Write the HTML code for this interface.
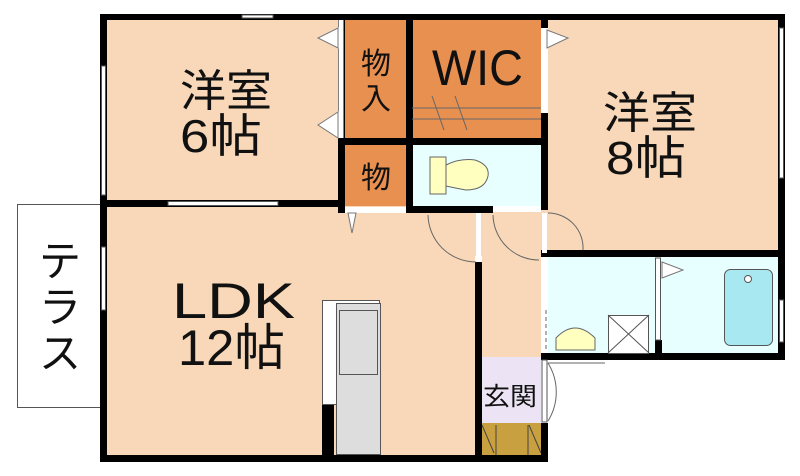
<!DOCTYPE html>
<html><head><meta charset="utf-8"><style>
html,body{margin:0;padding:0;background:#fff;width:800px;height:476px;overflow:hidden}
svg{display:block}
text{font-family:"Liberation Sans","Noto Sans CJK JP",sans-serif;fill:#111}
</style></head><body>
<svg width="800" height="476" viewBox="0 0 800 476" xmlns="http://www.w3.org/2000/svg">
<!-- terrace -->
<rect x="17.5" y="204.5" width="83" height="203" fill="#fff" stroke="#555" stroke-width="1"/>
<text x="60" y="276" font-size="42" text-anchor="middle">テ</text>
<text x="60" y="322" font-size="42" text-anchor="middle">ラ</text>
<text x="60" y="368" font-size="42" text-anchor="middle">ス</text>
<!-- rooms -->
<rect x="107" y="20" width="231" height="180" fill="#f8d8b8"/>
<rect x="107" y="207" width="368" height="248" fill="#f8d8b8"/>
<rect x="548" y="20" width="230" height="230" fill="#f8d8b8"/>
<rect x="345" y="20" width="61" height="118" fill="#e89050"/>
<rect x="413" y="20" width="128" height="118" fill="#e89050"/>
<rect x="345" y="145" width="61" height="61" fill="#e89050"/>
<rect x="413" y="145" width="128" height="61" fill="#e8ffff"/>
<rect x="345" y="206" width="203" height="50" fill="#f8d8b8"/>
<rect x="482" y="213" width="59" height="144" fill="#f8d8b8"/>
<rect x="548" y="257" width="230" height="96" fill="#e8ffff"/>
<rect x="482" y="357" width="59" height="66" fill="#ece4f4"/>
<rect x="482" y="423" width="59" height="32" fill="#c8a040"/>
<!-- walls -->
<g fill="#000">
<rect x="100" y="14" width="685" height="6"/>
<rect x="100" y="14" width="7" height="448"/>
<rect x="100" y="200" width="245" height="7"/>
<rect x="338" y="14" width="7" height="199"/>
<rect x="406" y="14" width="7" height="199"/>
<rect x="541" y="14" width="7" height="14"/>
<rect x="541" y="113" width="7" height="97"/>
<rect x="338" y="138" width="210" height="7"/>
<rect x="406" y="206" width="87" height="7"/>
<rect x="778" y="14" width="7" height="346"/>
<rect x="541" y="250" width="244" height="7"/>
<rect x="541" y="353" width="244" height="7"/>
<rect x="475" y="262" width="7" height="200"/>
<rect x="541" y="423" width="7" height="39"/>
<rect x="100" y="455" width="448" height="7"/>
<rect x="322" y="404" width="12" height="51"/>
<rect x="655" y="340" width="7" height="13"/>
</g>
<!-- windows -->
<g fill="#fff" stroke="#555" stroke-width="1">
<rect x="242" y="15" width="31" height="3"/>
<rect x="101.5" y="66" width="4" height="129"/>
<rect x="101.5" y="247" width="4" height="63"/>
<rect x="168" y="201.5" width="110" height="4"/>
<rect x="779.5" y="28" width="4" height="150"/>
<rect x="779.5" y="300" width="4" height="42"/>
<rect x="338.5" y="20" width="5" height="118" stroke="none"/>
<rect x="542" y="28" width="5" height="85" stroke="none"/>
<rect x="345" y="207" width="61" height="6" stroke="none"/>
<rect x="493" y="206" width="48" height="6" stroke="none"/>
<rect x="476" y="213" width="5" height="49" stroke="none"/>
<rect x="542" y="213" width="5" height="40" stroke="none"/>
<rect x="655.5" y="258" width="5" height="82"/>
<rect x="542" y="360" width="5" height="62"/>
</g>
<!-- door triangles -->
<g fill="#fff" stroke="#777" stroke-width="1">
<polygon points="338,28 338,48 318,38"/>
<polygon points="338,112 338,138 318,125"/>
<polygon points="547,30 547,48 568,38"/>
<polygon points="348,213 356,213 352,233"/>
<polygon points="662,262 662,278 683,270"/>
</g>
<!-- door arcs -->
<g fill="none" stroke="#666" stroke-width="1">
<path d="M428,215 A48,48 0 0 0 476,262"/>
<path d="M493,215 A46,46 0 0 0 539,260"/>
<path d="M548,213 A35,35 0 0 1 583,250"/>
<path d="M548,363 A55,55 0 0 1 548,421 M548,363 L605,363"/>
<line x1="412" y1="108" x2="541" y2="108"/>
<line x1="412" y1="119" x2="541" y2="119"/>
<line x1="432" y1="96" x2="444" y2="130"/>
<line x1="455" y1="96" x2="467" y2="130"/>
</g>
<!-- toilets -->
<rect x="430" y="157" width="16" height="37" fill="#ffffc0" stroke="#666"/>
<path d="M446,165 Q460,158 475,160 Q490,165 488,176 Q485,190 466,190 Q455,188 446,186Z" fill="#ffffc0" stroke="#666"/>
<path d="M556,350 L556,338 Q575,318 595,338 L595,350 Z" fill="#ffffc0" stroke="#666"/>
<line x1="546" y1="310" x2="546" y2="350" stroke="#666" stroke-dasharray="4,3"/>
<!-- washer -->
<rect x="608.5" y="315.5" width="40" height="38" fill="#fff" stroke="#555"/>
<path d="M608,315 L649,353 M649,315 L608,353" stroke="#555"/>
<!-- bathtub -->
<rect x="724.5" y="269.5" width="48" height="76" rx="6" fill="#a8e8f0" stroke="#555"/>
<circle cx="748" cy="279" r="3.5" fill="#fff" stroke="#555"/>
<!-- kitchen -->
<rect x="322.5" y="300.5" width="57" height="104" fill="#fff" stroke="#555"/>
<rect x="336.5" y="303.5" width="44" height="151" fill="#ddd" stroke="#555"/>
<rect x="339.5" y="310.5" width="38" height="64" fill="#ddd" stroke="#555"/>
<!-- genkan shoe -->
<g stroke="#444" fill="none">
<line x1="482" y1="425" x2="494" y2="453"/><line x1="496" y1="425" x2="496" y2="455"/>
<line x1="529" y1="425" x2="541" y2="453"/><line x1="528" y1="425" x2="528" y2="455"/>
</g>
<!-- labels -->
<text x="180" y="106" font-size="44" textLength="92" lengthAdjust="spacingAndGlyphs">洋室</text>
<text x="180" y="152" font-size="46" textLength="82" lengthAdjust="spacingAndGlyphs">6帖</text>
<text x="603" y="128" font-size="44" textLength="94" lengthAdjust="spacingAndGlyphs">洋室</text>
<text x="606" y="174" font-size="46" textLength="80" lengthAdjust="spacingAndGlyphs">8帖</text>
<text x="172" y="318" font-size="50" textLength="123" lengthAdjust="spacingAndGlyphs">LDK</text>
<text x="178" y="365" font-size="50" textLength="107" lengthAdjust="spacingAndGlyphs">12帖</text>
<text x="432" y="85" font-size="50" textLength="91" lengthAdjust="spacingAndGlyphs">WIC</text>
<text x="376" y="74" font-size="30" text-anchor="middle">物</text>
<text x="376" y="109" font-size="30" text-anchor="middle">入</text>
<text x="376" y="188" font-size="30" text-anchor="middle">物</text>
<text x="483" y="405" font-size="25" textLength="54" lengthAdjust="spacingAndGlyphs">玄関</text>
</svg>
</body></html>
